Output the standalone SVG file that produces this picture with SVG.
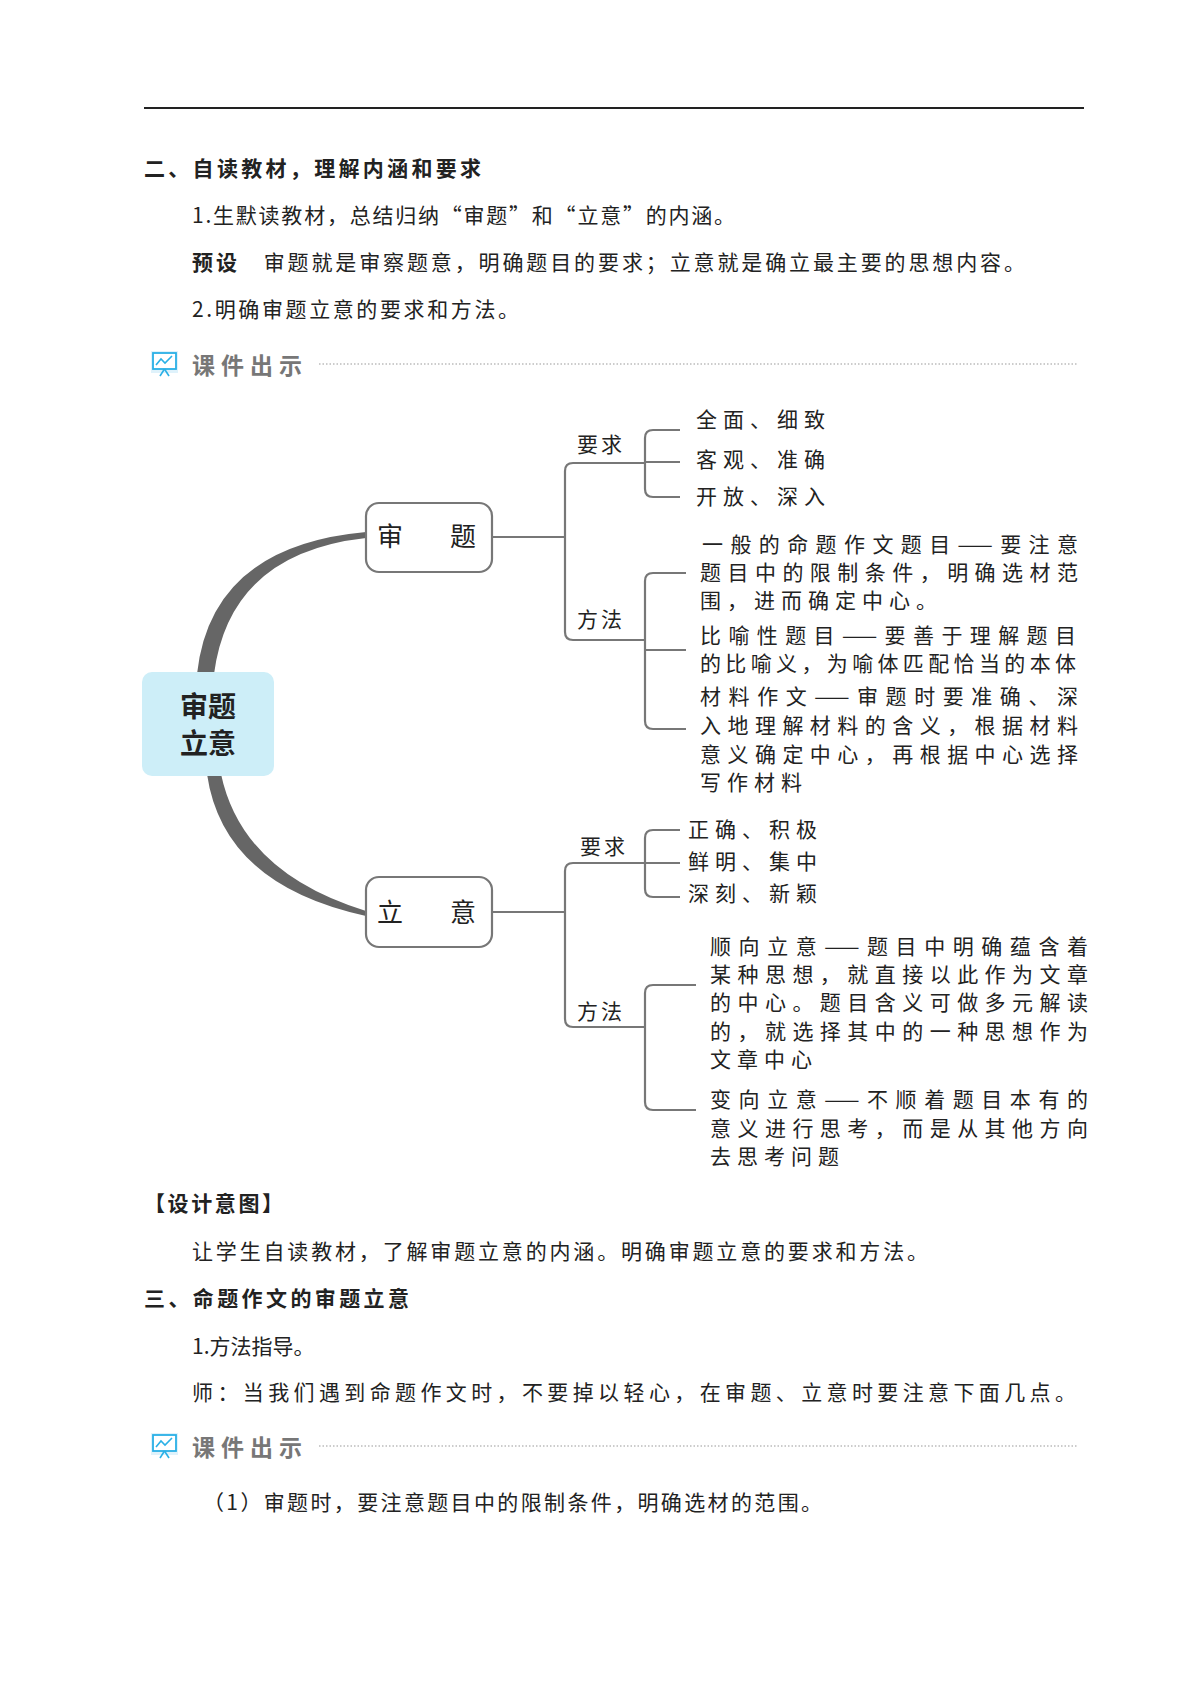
<svg xmlns="http://www.w3.org/2000/svg" width="1200" height="1697" viewBox="0 0 1200 1697">
<style>
text{font-family:"Noto Sans CJK SC","Noto Sans",sans-serif;fill:#222}
.b{font-size:21px}
.h{font-size:21px;font-weight:bold}
.m{font-size:21px;letter-spacing:6px}
.l{font-size:21px;letter-spacing:3px}
.k{font-size:23px;font-weight:bold;fill:#777;letter-spacing:6px}
.ln{fill:none;stroke:#777;stroke-width:2.2}
.nd{fill:#fff;stroke:#777;stroke-width:2.2}
</style>
<defs>
<g id="icon"><rect x="0" y="0" width="27" height="22" fill="#dff2fb"/><rect x="2" y="2" width="23" height="16" fill="#fff" stroke="#2ab0e6" stroke-width="1.8"/><polyline points="5,14 10,8 14,12 21,5" fill="none" stroke="#2ab0e6" stroke-width="1.6"/><line x1="13.5" y1="18" x2="9" y2="25" stroke="#2ab0e6" stroke-width="1.6"/><line x1="13.5" y1="18" x2="18" y2="25" stroke="#2ab0e6" stroke-width="1.6"/></g>
</defs>
<rect width="1200" height="1697" fill="#fff"/>
<line x1="144" y1="108" x2="1084" y2="108" stroke="#222" stroke-width="2"/>
<text class="h" x="144" y="176" textLength="337">二、自读教材，理解内涵和要求</text>
<text class="b" x="192" y="223" textLength="543">1.生默读教材，总结归纳“审题”和“立意”的内涵。</text>
<text x="192" y="270" class="b" textLength="833"><tspan font-weight="bold">预设</tspan>　审题就是审察题意，明确题目的要求；立意就是确立最主要的思想内容。</text>
<text class="b" x="192" y="317" textLength="327">2.明确审题立意的要求和方法。</text>
<use href="#icon" x="151" y="351"/>
<text class="k" x="192" y="374">课件出示</text>
<line x1="319" y1="364" x2="1078" y2="364" stroke="#999" stroke-width="1.2" stroke-dasharray="1.5 2"/>

<g id="connectors">
<path d="M197,674 Q211,546 366,532 L366,538 Q230,553 214,674 Z" fill="#666"/>
<path d="M207,774 Q223,885 366,916 L366,911 Q242,873 221,774 Z" fill="#666"/>
<path class="ln" d="M492,537 H565 M573,463 H645 M565,471 V632 M573,640 H645 M565,471 Q565,463 573,463 M565,632 Q565,640 573,640"/>
<path class="ln" d="M653,430 H680 M645,438 V489 Q645,497 653,497 H680 M645,438 Q645,430 653,430 M645,462 H680"/>
<path class="ln" d="M653,573 H686 M645,581 V721 Q645,729 653,729 H686 M645,581 Q645,573 653,573 M645,650 H686"/>
<path class="ln" d="M492,912 H565 M573,863 H645 M565,871 V1019 Q565,1027 573,1027 H645 M565,871 Q565,863 573,863"/>
<path class="ln" d="M653,830 H680 M645,838 V889 Q645,897 653,897 H680 M645,838 Q645,830 653,830 M645,863 H680"/>
<path class="ln" d="M653,985 H696 M645,993 V1102 Q645,1110 653,1110 H696 M645,993 Q645,985 653,985"/>
</g>

<g id="center"><rect x="142" y="672" width="132" height="104" rx="10" fill="#cdeef8"/>
<text x="208" y="717" text-anchor="middle" font-size="28" font-weight="bold">审题</text>
<text x="208" y="754" text-anchor="middle" font-size="28" font-weight="bold">立意</text></g>
<g id="shenti"><rect class="nd" x="366" y="503" width="126" height="69" rx="13"/>
<text x="377" y="546" font-size="26">审</text><text x="450" y="546" font-size="26">题</text></g>
<g id="liyi"><rect class="nd" x="366" y="877" width="126" height="70" rx="13"/>
<text x="377" y="922" font-size="26">立</text><text x="450" y="922" font-size="26">意</text></g>

<g id="labels">
<text class="l" x="577" y="452">要求</text>
<text class="l" x="577" y="627">方法</text>
<text class="l" x="580" y="854">要求</text>
<text class="l" x="577" y="1019">方法</text>
</g>
<g id="st-req">
<text class="m" x="696" y="427">全面、细致</text>
<text class="m" x="696" y="467">客观、准确</text>
<text class="m" x="696" y="504">开放、深入</text>
</g>
<g id="st-method">
<text class="b" x="702" y="552" textLength="376">一般的命题作文题目——要注意</text>
<text class="b" x="700" y="580" textLength="378">题目中的限制条件，明确选材范</text>
<text class="m" x="700" y="608">围，进而确定中心。</text>
<text class="b" x="700" y="643" textLength="376">比喻性题目——要善于理解题目</text>
<text class="b" x="700" y="671" textLength="376">的比喻义，为喻体匹配恰当的本体</text>
<text class="b" x="700" y="704" textLength="378">材料作文——审题时要准确、深</text>
<text class="b" x="700" y="733" textLength="378">入地理解材料的含义，根据材料</text>
<text class="b" x="700" y="762" textLength="378">意义确定中心，再根据中心选择</text>
<text class="m" x="700" y="790">写作材料</text>
</g>
<g id="ly-req">
<text class="m" x="688" y="837">正确、积极</text>
<text class="m" x="688" y="869">鲜明、集中</text>
<text class="m" x="688" y="901">深刻、新颖</text>
</g>
<g id="ly-method">
<text class="b" x="710" y="954" textLength="378">顺向立意——题目中明确蕴含着</text>
<text class="b" x="710" y="982" textLength="378">某种思想，就直接以此作为文章</text>
<text class="b" x="710" y="1010" textLength="378">的中心。题目含义可做多元解读</text>
<text class="b" x="710" y="1039" textLength="378">的，就选择其中的一种思想作为</text>
<text class="m" x="710" y="1067">文章中心</text>
<text class="b" x="710" y="1107" textLength="378">变向立意——不顺着题目本有的</text>
<text class="b" x="710" y="1136" textLength="378">意义进行思考，而是从其他方向</text>
<text class="m" x="710" y="1164">去思考问题</text>
</g>

<text class="h" x="144" y="1211" textLength="139">【设计意图】</text>
<text class="b" x="192" y="1259" textLength="736">让学生自读教材，了解审题立意的内涵。明确审题立意的要求和方法。</text>
<text class="h" x="144" y="1306" textLength="265">三、命题作文的审题立意</text>
<text class="b" x="192" y="1354">1.方法指导。</text>
<text class="b" x="192" y="1400" textLength="884">师：当我们遇到命题作文时，不要掉以轻心，在审题、立意时要注意下面几点。</text>
<use href="#icon" x="151" y="1433"/>
<text class="k" x="192" y="1456">课件出示</text>
<line x1="319" y1="1446" x2="1078" y2="1446" stroke="#999" stroke-width="1.2" stroke-dasharray="1.5 2"/>
<text class="b" x="203" y="1510" textLength="619">（1）审题时，要注意题目中的限制条件，明确选材的范围。</text>
</svg>
